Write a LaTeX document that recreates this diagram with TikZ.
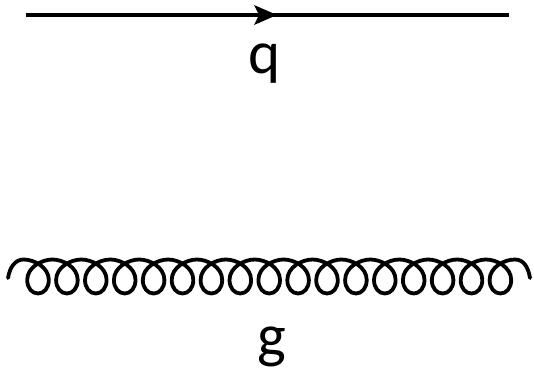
\documentclass[tikz,border=0pt]{standalone}
\usepackage{fontspec}
\setmainfont{Carlito}
\begin{document}
\begin{tikzpicture}[x=1pt,y=-1pt,
  fermion/.style={line width=3.2pt,black},
  gluon/.style={line width=3.8pt,black,line join=round,line cap=round},
  label/.style={inner sep=0pt,font=\fontsize{61}{61}\selectfont,text=black,anchor=base}]
\useasboundingbox (0,0) rectangle (534,370);
\coordinate (qa) at (26,15);
\coordinate (qb) at (509,15);
\coordinate (qt) at (277,15);
\draw[fermion] (qa) -- (qb);
\fill[black] (qt) -- (254,5) -- (259,15) -- (254,25) -- cycle;
\node[label] (q) at (265,73) {q};
\coordinate (ga) at (8,278);
\coordinate (gs) at (23.5,259.5);
\coordinate (gb) at (530,278);
\draw[gluon] (ga) .. controls (10,266) and (16,259.5) .. (gs)
  foreach[evaluate=\i as \cx using 38+28.9*\i] \i in {0,...,16} {
   .. controls ({\cx-4},259.5) and ({\cx+10.8},267) .. ({\cx+10.8},280)
   .. controls ({\cx+10.8},288) and ({\cx+6},293.5) .. ({\cx},293.5)
   .. controls ({\cx-6},293.5) and ({\cx-10.8},288) .. ({\cx-10.8},280)
   .. controls ({\cx-10.8},267) and ({\cx+4},259.5) .. ({\cx+14.45},259.5)
  }
  .. controls (523,259.5) and (528,266) .. (gb);
\node[label] (g) at (272,356) {g};
\end{tikzpicture}
\end{document}
